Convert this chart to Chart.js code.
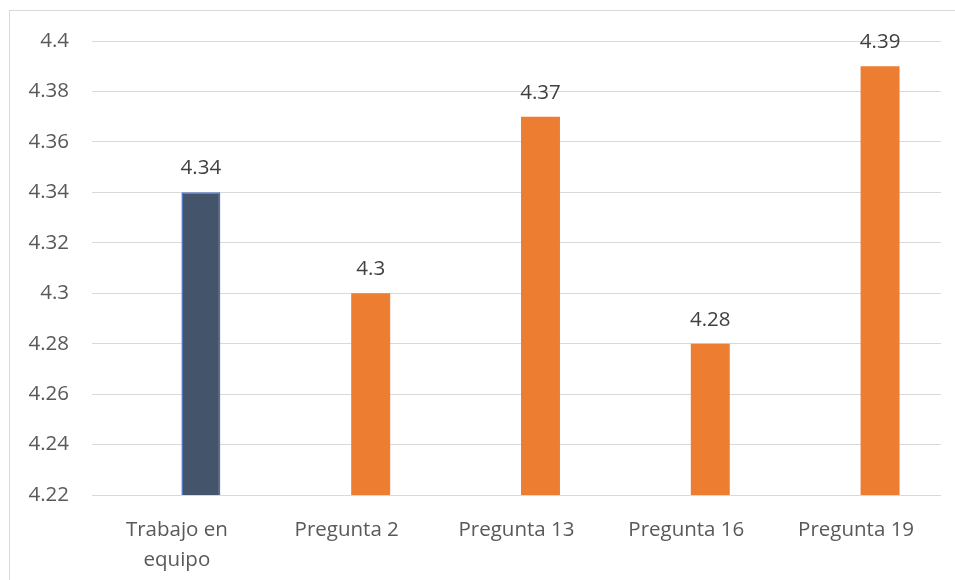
<!DOCTYPE html>
<html>
<head>
<meta charset="utf-8">
<script src="https://cdn.jsdelivr.net/npm/chart.js@4.4.0/dist/chart.umd.min.js"></script>
<style>
    html, body { margin: 0; padding: 0; background: #fff; overflow: hidden; }
    #wrap { position: relative; width: 955px; height: 580px; overflow: hidden; }
    #marco {
        position: absolute; left: 9px; top: 10px; width: 1000px; height: 1000px;
        border-left: 1px solid #d9d9d9; border-top: 1px solid #d9d9d9;
    }
    #grafico { position: absolute; left: 0; top: 0; }
</style>
</head>
<body>
<div id="wrap">
    <div id="marco"></div>
    <canvas id="grafico" width="955" height="580"></canvas>
</div>
<script>
    // Datos del gráfico
    var categorias = [["Trabajo en", "equipo"], "Pregunta 2", "Pregunta 13", "Pregunta 16", "Pregunta 19"];
    var promedios = [4.34, 4.3, 4.37, 4.28, 4.39];
    var serieVacia = [null, null, null, null, null];   // serie sin valores, ocupa el primer hueco de cada grupo
    var coloresBarras = ["#44546A", "#ED7D31", "#ED7D31", "#ED7D31", "#ED7D31"];
    var ejeMin = 4.22, ejeMax = 4.4, ejePaso = 0.02;

    var fuente = '"Open Sans", "Noto Sans", sans-serif';
    var tam = 20.5;

    // Etiquetas con el valor encima de cada barra
    var etiquetasValor = {
        id: "etiquetasValor",
        afterDatasetsDraw: function (chart) {
            var ctx = chart.ctx;
            ctx.save();
            ctx.font = tam + "px " + fuente;
            ctx.fillStyle = "#404040";
            ctx.textAlign = "center";
            ctx.textBaseline = "alphabetic";
            chart.data.datasets.forEach(function (ds, i) {
                chart.getDatasetMeta(i).data.forEach(function (barra, j) {
                    var v = ds.data[j];
                    if (v == null) return;
                    ctx.fillText(String(v), barra.x, barra.y - 18);
                });
            });
            ctx.restore();
        }
    };

    new Chart(document.getElementById("grafico"), {
        type: "bar",
        data: {
            labels: categorias,
            datasets: [{
                label: "",
                data: serieVacia,
                backgroundColor: "#5B9BD5",
                categoryPercentage: 0.565,
                barPercentage: 0.8125
            }, {
                label: "Promedio",
                data: promedios,
                backgroundColor: coloresBarras,
                borderColor: ["#4472C4", "#ED7D31", "#ED7D31", "#ED7D31", "#ED7D31"],
                borderWidth: [1.5, 0, 0, 0, 0],
                borderSkipped: false,
                categoryPercentage: 0.565,
                barPercentage: 0.8125
            }]
        },
        options: {
            responsive: false,
            animation: false,
            layout: { padding: { top: 41, right: 14, left: 0, bottom: 0 } },
            plugins: {
                legend: { display: false },
                tooltip: { enabled: false }
            },
            scales: {
                x: {
                    grid: { display: false },
                    border: { display: false },
                    ticks: {
                        color: "#595959",
                        padding: 12,
                        maxRotation: 0,
                        font: { family: fuente, size: tam, lineHeight: 1.47 }
                    },
                    afterFit: function (scale) { scale.height = 85; }
                },
                y: {
                    min: ejeMin,
                    max: ejeMax,
                    grid: { color: "#d9d9d9", lineWidth: 1, drawTicks: false },
                    border: { display: false },
                    ticks: {
                        stepSize: ejePaso,
                        color: "#595959",
                        padding: 23,
                        font: { family: fuente, size: tam },
                        callback: function (v) { return Number(v.toFixed(2)).toString(); }
                    },
                    afterFit: function (scale) { scale.width = 92; }
                }
            }
        },
        plugins: [etiquetasValor]
    });
</script>
</body>
</html>
